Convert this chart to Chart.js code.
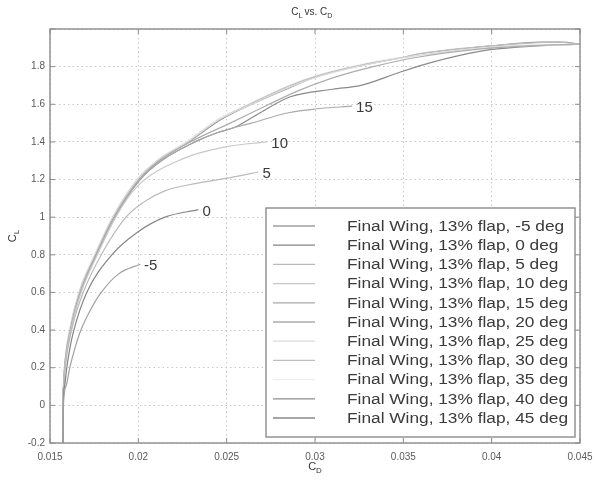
<!DOCTYPE html>
<html>
<head>
<meta charset="utf-8">
<title>CL vs CD</title>
<script src="https://cdn.jsdelivr.net/npm/chart.js@4/dist/chart.umd.min.js"></script>
<style>
  html, body { margin: 0; padding: 0; background: #fff; }
</style>
</head>
<body>
<canvas id="myChart" width="596" height="483"></canvas>
<script>
// drag polars (CD on x, CL on y)
let clNeg5 = [-0.2, 0, 0.1, 0.2, 0.3, 0.4, 0.5, 0.6, 0.7, 0.75]
let cdNeg5 = [0.015740, 0.015760, 0.01590, 0.01612, 0.01640, 0.01675, 0.01725, 0.01790, 0.01890, 0.02010]

let cl0 = [-0.2, 0, 0.1, 0.2, 0.3, 0.4, 0.6, 0.8, 0.92, 1.0, 1.04]
let cd0 = [0.015740, 0.015750, 0.01582, 0.01595, 0.01612, 0.01635, 0.01708, 0.01850, 0.01995, 0.02150, 0.02340]

let cl5 = [-0.2, 0, 0.1, 0.2, 0.4, 0.6, 0.8, 1.0, 1.08, 1.14, 1.18, 1.21, 1.24]
let cd5 = [0.015740, 0.015745, 0.01578, 0.01586, 0.01622, 0.01688, 0.01790, 0.01930, 0.02030, 0.02150, 0.02330, 0.02520, 0.02680]

let cl10 = [-0.2, 0, 0.1, 0.2, 0.4, 0.6, 0.8, 1.0, 1.16, 1.31, 1.375, 1.40]
let cd10 = [0.015740, 0.015745, 0.01577, 0.01584, 0.01618, 0.01676, 0.01768, 0.01872, 0.01990, 0.02250, 0.02500, 0.02730]

let cl15 = [-0.2, 0, 0.1, 0.2, 0.4, 0.6, 0.8, 1.0, 1.2, 1.3, 1.4, 1.45, 1.5, 1.555, 1.575, 1.59]
let cd15 = [0.015740, 0.015745, 0.01577, 0.01583, 0.01616, 0.01672, 0.01762, 0.01865, 0.02010, 0.02130, 0.02320, 0.02450, 0.02640, 0.02850, 0.03000, 0.03210]

let cl20 = [-0.2, 0, 0.1, 0.2, 0.4, 0.6, 0.8, 1.0, 1.2, 1.3, 1.4, 1.5, 1.6, 1.67, 1.74, 1.8, 1.85, 1.89, 1.91, 1.92]
let cd20 = [0.015740, 0.015745, 0.01577, 0.01583, 0.01615, 0.01670, 0.01760, 0.01862, 0.02005, 0.02120, 0.02295, 0.02520, 0.02740, 0.02900, 0.03100, 0.03330, 0.03580, 0.03900, 0.04200, 0.04500]

let cl25 = [-0.2, 0, 0.1, 0.2, 0.4, 0.6, 0.8, 1.0, 1.2, 1.3, 1.4, 1.52, 1.6, 1.7, 1.75, 1.8, 1.85, 1.88, 1.91, 1.92]
let cd25 = [0.015740, 0.015745, 0.01576, 0.01582, 0.01612, 0.01666, 0.01756, 0.01858, 0.01995, 0.02105, 0.02275, 0.02460, 0.02640, 0.02880, 0.03030, 0.03240, 0.03520, 0.03750, 0.04100, 0.04500]

let cl30 = [-0.2, 0, 0.1, 0.2, 0.4, 0.6, 0.8, 1.0, 1.2, 1.3, 1.4, 1.52, 1.6, 1.7, 1.75, 1.8, 1.85, 1.87, 1.91, 1.93, 1.92]
let cd30 = [0.015740, 0.015745, 0.01576, 0.01582, 0.01612, 0.01665, 0.01755, 0.01856, 0.01995, 0.02110, 0.02280, 0.02460, 0.02630, 0.02860, 0.03010, 0.03220, 0.03500, 0.03600, 0.03990, 0.04370, 0.04500]

let cl35 = [-0.2, 0, 0.1, 0.2, 0.4, 0.6, 0.8, 1.0, 1.2, 1.3, 1.4, 1.52, 1.6, 1.7, 1.76, 1.82, 1.86, 1.9, 1.92]
let cd35 = [0.015740, 0.015745, 0.01576, 0.01581, 0.01610, 0.01662, 0.01752, 0.01852, 0.01990, 0.02105, 0.02270, 0.02450, 0.02620, 0.02850, 0.03040, 0.03300, 0.03560, 0.03950, 0.04500]

let cl40 = [-0.2, 0, 0.1, 0.2, 0.4, 0.6, 0.8, 1.0, 1.2, 1.3, 1.4, 1.52, 1.6, 1.69, 1.75, 1.8, 1.85, 1.87, 1.91, 1.93, 1.93, 1.92]
let cd40 = [0.015740, 0.015745, 0.01577, 0.01583, 0.01614, 0.01668, 0.01758, 0.01860, 0.02000, 0.02115, 0.02285, 0.02470, 0.02640, 0.02860, 0.03020, 0.03230, 0.03500, 0.03620, 0.04000, 0.04280, 0.04400, 0.04500]

let cl45 = [-0.2, 0, 0.1, 0.2, 0.4, 0.6, 0.8, 1.0, 1.2, 1.3, 1.4, 1.45, 1.475, 1.55, 1.64, 1.68, 1.70, 1.77, 1.82, 1.86, 1.89, 1.91, 1.92]
let cd45 = [0.015740, 0.015745, 0.01577, 0.01583, 0.01616, 0.01672, 0.01762, 0.01865, 0.02010, 0.02130, 0.02320, 0.02450, 0.02540, 0.02680, 0.02860, 0.03100, 0.03260, 0.03480, 0.03650, 0.03820, 0.03990, 0.04250, 0.04500]

let seriesLabels = ['Final Wing, 13% flap, -5 deg', 'Final Wing, 13% flap, 0 deg', 'Final Wing, 13% flap, 5 deg',
  'Final Wing, 13% flap, 10 deg', 'Final Wing, 13% flap, 15 deg', 'Final Wing, 13% flap, 20 deg',
  'Final Wing, 13% flap, 25 deg', 'Final Wing, 13% flap, 30 deg', 'Final Wing, 13% flap, 35 deg',
  'Final Wing, 13% flap, 40 deg', 'Final Wing, 13% flap, 45 deg']
let endLabels = ['-5', '0', '5', '10', '15', '', '', '', '', '', '']
let lineColors = ['#a0a0a0', '#858585', '#bababa', '#c8c8c8', '#aaaaaa', '#adadad',
  '#dcdcdc', '#bebebe', '#efefef', '#8e8e8e', '#8a8a8a']

let xTicks = [0.015, 0.02, 0.025, 0.03, 0.035, 0.04, 0.045]
let xTickLabels = ['0.015', '0.02', '0.025', '0.03', '0.035', '0.04', '0.045']
let yTicks = [-0.2, 0, 0.2, 0.4, 0.6, 0.8, 1, 1.2, 1.4, 1.6, 1.8, 2.0]
let yTickLabels = ['-0.2', '0', '0.2', '0.4', '0.6', '0.8', '1', '1.2', '1.4', '1.6', '1.8', '']

let allCl = [clNeg5, cl0, cl5, cl10, cl15, cl20, cl25, cl30, cl35, cl40, cl45]
let allCd = [cdNeg5, cd0, cd5, cd10, cd15, cd20, cd25, cd30, cd35, cd40, cd45]

let datasets = seriesLabels.map((lbl, i) => ({
  label: lbl,
  data: allCd[i].map((cd, j) => ({ x: cd, y: allCl[i][j] })),
  borderColor: lineColors[i],
  borderWidth: 1.2,
  pointRadius: 0,
  fill: false,
  cubicInterpolationMode: 'monotone'
}))

const FONT = '"Liberation Sans", Arial, sans-serif'

// text with a subscript, e.g. C_L
function drawSub(ctx, base, sub, x, y, size) {
  ctx.font = size + 'px ' + FONT
  let wb = ctx.measureText(base).width
  ctx.font = (size * 0.72) + 'px ' + FONT
  let ws = ctx.measureText(sub).width
  let x0 = x - (wb + ws) / 2
  ctx.textAlign = 'left'
  ctx.textBaseline = 'alphabetic'
  ctx.font = size + 'px ' + FONT
  ctx.fillText(base, x0, y)
  ctx.font = (size * 0.72) + 'px ' + FONT
  ctx.fillText(sub, x0 + wb, y + size * 0.3)
  return wb + ws
}

const matlabFrame = {
  id: 'matlabFrame',
  afterDatasetsDraw(chart) {
    let { ctx, chartArea: a, scales } = chart
    ctx.save()
    // box + inward ticks
    ctx.strokeStyle = '#8c8c8c'
    ctx.lineWidth = 1.4
    ctx.strokeRect(a.left, a.top, a.right - a.left, a.bottom - a.top)
    ctx.lineWidth = 1
    xTicks.forEach(v => {
      let px = scales.x.getPixelForValue(v)
      ctx.beginPath()
      ctx.moveTo(px, a.bottom); ctx.lineTo(px, a.bottom - 5)
      ctx.moveTo(px, a.top); ctx.lineTo(px, a.top + 5)
      ctx.stroke()
    })
    yTicks.forEach(v => {
      let py = scales.y.getPixelForValue(v)
      ctx.beginPath()
      ctx.moveTo(a.left, py); ctx.lineTo(a.left + 5, py)
      ctx.moveTo(a.right, py); ctx.lineTo(a.right - 5, py)
      ctx.stroke()
    })

    // end-of-curve labels
    ctx.fillStyle = '#3a3a3a'
    ctx.font = '15px ' + FONT
    ctx.textAlign = 'left'
    ctx.textBaseline = 'middle'
    chart.data.datasets.forEach((ds, i) => {
      if (!endLabels[i]) return
      let last = ds.data[ds.data.length - 1]
      let px = scales.x.getPixelForValue(last.x)
      let py = scales.y.getPixelForValue(last.y)
      ctx.fillText(endLabels[i], px + 4, py + 2)
    })

    // legend inside the axes
    let bw = 309, bh = 229
    let bx = a.right - 5 - bw, by = a.bottom - 6 - bh
    ctx.fillStyle = '#fff'
    ctx.fillRect(bx, by, bw, bh)
    ctx.strokeStyle = '#8c8c8c'
    ctx.lineWidth = 1.4
    ctx.strokeRect(bx, by, bw, bh)
    ctx.font = '14px ' + FONT
    let sx = 221 / ctx.measureText(seriesLabels[3]).width
    chart.data.datasets.forEach((ds, i) => {
      let ry = by + 18 + i * 19.2
      ctx.strokeStyle = ds.borderColor
      ctx.lineWidth = 1.3
      ctx.beginPath()
      ctx.moveTo(bx + 7, ry); ctx.lineTo(bx + 49, ry)
      ctx.stroke()
      ctx.fillStyle = '#3a3a3a'
      ctx.save()
      ctx.translate(bx + 81, ry + 1)
      ctx.scale(sx, 1)
      ctx.fillText(ds.label, 0, 0)
      ctx.restore()
    })

    // title and axis titles
    ctx.fillStyle = '#333'
    let cx = (a.left + a.right) / 2
    ctx.font = '10px ' + FONT
    let tw = ctx.measureText(' vs. ').width
    ctx.textAlign = 'center'
    ctx.textBaseline = 'alphabetic'
    ctx.fillText('vs.', cx - 4, 15)
    drawSub(ctx, 'C', 'L', cx - 4 - tw / 2 - 5, 15, 10)
    drawSub(ctx, 'C', 'D', cx - 4 + tw / 2 + 6, 15, 10)

    drawSub(ctx, 'C', 'D', cx, 470, 11)

    ctx.translate(16, (a.top + a.bottom) / 2)
    ctx.rotate(-Math.PI / 2)
    drawSub(ctx, 'C', 'L', 0, 0, 11)
    ctx.restore()
  }
}

new Chart('myChart', {
  type: 'line',
  data: { datasets: datasets },
  options: {
    responsive: false,
    animation: false,
    layout: { padding: { left: 0, top: 29, right: 16, bottom: 0 } },
    plugins: {
      legend: { display: false },
      title: { display: false },
      tooltip: { enabled: false }
    },
    scales: {
      x: {
        type: 'linear',
        min: 0.015,
        max: 0.045,
        afterBuildTicks: s => { s.ticks = xTicks.map(v => ({ value: v })) },
        afterFit: s => { s.height = 40; s.paddingLeft = 0; s.paddingRight = 0 },
        ticks: {
          callback: (v, i) => xTickLabels[i],
          color: '#5a5a5a',
          font: { size: 10, family: FONT },
          padding: 8,
          maxRotation: 0
        },
        grid: { color: '#c8c8c8', drawTicks: false },
        border: { display: false, dash: [1.5, 3] }
      },
      y: {
        type: 'linear',
        min: -0.2,
        max: 2.0,
        afterBuildTicks: s => { s.ticks = yTicks.map(v => ({ value: v })) },
        afterFit: s => { s.width = 50; s.paddingTop = 0; s.paddingBottom = 0 },
        ticks: {
          callback: (v, i) => yTickLabels[i],
          color: '#5a5a5a',
          font: { size: 10, family: FONT },
          padding: 5
        },
        grid: { color: '#c8c8c8', drawTicks: false },
        border: { display: false, dash: [1.5, 3] }
      }
    }
  },
  plugins: [matlabFrame]
})
</script>
</body>
</html>
